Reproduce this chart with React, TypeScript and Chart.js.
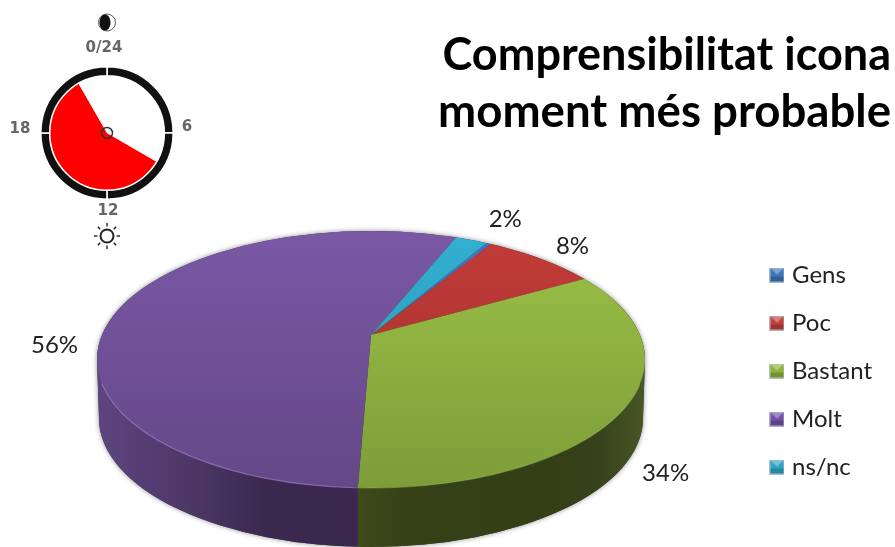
import React, { useEffect, useRef } from "react";
import { Chart, registerables } from "chart.js";

Chart.register(...registerables);

// ---- data ----
const categories = ["Gens", "Poc", "Bastant", "Molt", "ns/nc"];
const shares = [0.3, 8, 34, 56, 2];
const shareLabels = ["", "8%", "34%", "56%", "2%"];
const titleLines = ["Comprensibilitat icona", "moment més probable"];
const clockHours = [14, 10];
const clockQuarters = [6, 6, 6, 6];

// ---- styles ----
const topColors = ["#3F78C4", "#C23B38", "#9BC146", "#7A58A5", "#33B0D2"];
const legendColors = ["#3A75B8", "#C0403C", "#8DB33C", "#7450A8", "#2FA3C4"];
const wallStops: Record<number, string[]> = {
  2: ["#3E4A1A", "#364117", "#344015", "#343F15", "#343F15", "#36421A", "#4A5726"],
  3: ["#5E4580", "#4E3869", "#3A284F", "#3A284F"],
};
const labelOffsets = [[0, 0], [22, -10], [49, 70], [-45, 24], [32, -19]];
const titleSizes = [45, 45.6];

const PIE = {
  cx: 371, cy: 335,
  rx: 274, upper: 104, lower: 153,
  shear: -26, grow: 1.4,
  rimCy: 359.5, rimRy: 128.5,
  baseCy: 418.5, baseRx: 272, baseRy: 128.5,
};

const rimPath = (ctx: CanvasRenderingContext2D) => {
  ctx.beginPath();
  ctx.ellipse(PIE.cx, PIE.rimCy, PIE.rx, PIE.rimRy, 0, 0, Math.PI * 2);
};

const wallPath = (ctx: CanvasRenderingContext2D) => {
  ctx.beginPath();
  ctx.ellipse(PIE.cx, PIE.rimCy, PIE.rx, PIE.rimRy, 0, Math.PI, 0);
  ctx.lineTo(PIE.cx + PIE.baseRx, PIE.baseCy);
  ctx.ellipse(PIE.cx, PIE.baseCy, PIE.baseRx, PIE.baseRy, 0, 0, Math.PI);
  ctx.closePath();
};

const makeMarker = (color: string) => {
  const c = document.createElement("canvas");
  c.width = 15;
  c.height = 15;
  const g = c.getContext("2d")!;
  g.fillStyle = color;
  g.fillRect(0, 0, 15, 15);
  g.fillStyle = "rgba(255,255,255,0.35)";
  g.beginPath();
  g.moveTo(1, 1); g.lineTo(14, 1); g.lineTo(7.5, 7); g.closePath();
  g.fill();
  g.fillStyle = "rgba(0,0,0,0.18)";
  g.beginPath();
  g.moveTo(1, 14); g.lineTo(14, 14); g.lineTo(14, 9); g.lineTo(1, 9); g.closePath();
  g.fill();
  g.strokeStyle = "rgba(190,200,215,0.8)";
  g.strokeRect(0.5, 0.5, 14, 14);
  return c;
};

const piePlugin = {
  id: "tiltedPie",
  beforeDatasetsDraw(chart: any) {
    const ctx: CanvasRenderingContext2D = chart.ctx;
    const arcs: any[] = chart.getDatasetMeta(0).data;
    const R = arcs[0].outerRadius;
    const E = PIE.grow;

    // side wall
    ctx.save();
    ctx.shadowColor = "rgba(0,0,0,0.45)";
    ctx.shadowBlur = 5;
    ctx.fillStyle = "#444";
    wallPath(ctx);
    ctx.fill();
    ctx.restore();
    const frontX = (a: number) => PIE.cx + PIE.rx * Math.cos(a) + PIE.shear * Math.sin(a);
    arcs.forEach((arc, i) => {
      const stops = wallStops[i];
      if (!stops) return;
      const s = arc.startAngle;
      const e = arc.endAngle;
      if (e <= 0 || s >= Math.PI) return;
      const right = s <= 0 ? PIE.cx + PIE.rx + 2 : frontX(s);
      const left = e >= Math.PI ? PIE.cx - PIE.rx - 2 : frontX(e);
      const g = ctx.createLinearGradient(left, 0, right, 0);
      stops.forEach((c, k) => g.addColorStop(k / (stops.length - 1), c));
      ctx.save();
      ctx.beginPath();
      ctx.rect(left, 300, right - left, 260);
      ctx.clip();
      wallPath(ctx);
      ctx.fillStyle = g;
      ctx.fill();
      ctx.restore();
    });

    // top face, in two halves either side of the apex
    const half = (clipY: number, clipH: number, sy: number, shear: number) => {
      ctx.save();
      rimPath(ctx);
      ctx.clip();
      ctx.beginPath();
      ctx.rect(0, clipY, 895, clipH);
      ctx.clip();
      ctx.translate(PIE.cx, PIE.cy);
      ctx.transform((E * PIE.rx) / R, 0, (E * shear) / R, (E * sy) / R, 0, 0);
      ctx.translate(-arcs[0].x, -arcs[0].y);
      arcs.forEach((a) => a.draw(ctx));
      ctx.restore();
    };
    half(0, PIE.cy + 0.5, PIE.upper, 0);
    half(PIE.cy - 0.5, 547, PIE.lower, PIE.shear);

    // shading and rim
    ctx.save();
    rimPath(ctx);
    ctx.clip();
    const shade = ctx.createLinearGradient(0, PIE.rimCy - PIE.rimRy, 0, PIE.rimCy + PIE.rimRy);
    shade.addColorStop(0, "rgba(0,0,0,0)");
    shade.addColorStop(1, "rgba(0,0,0,0.19)");
    ctx.fillStyle = shade;
    ctx.fillRect(0, 0, 895, 547);
    ctx.restore();

    ctx.save();
    ctx.lineWidth = 1.2;
    ctx.strokeStyle = "rgba(150,120,195,0.75)";
    ctx.beginPath();
    ctx.ellipse(PIE.cx, PIE.rimCy, PIE.rx, PIE.rimRy, 0, 1.63, 2.95);
    ctx.stroke();
    ctx.strokeStyle = "rgba(160,190,90,0.45)";
    ctx.beginPath();
    ctx.ellipse(PIE.cx, PIE.rimCy, PIE.rx, PIE.rimRy, 0, 0.2, 1.63);
    ctx.stroke();
    ctx.restore();
    return false;
  },
  afterDraw(chart: any) {
    const ctx: CanvasRenderingContext2D = chart.ctx;
    const arcs: any[] = chart.getDatasetMeta(0).data;
    ctx.save();
    ctx.textAlign = "center";
    ctx.textBaseline = "middle";

    // title
    ctx.fillStyle = "#000";
    ctx.textAlign = "right";
    titleLines.forEach((t, i) => {
      ctx.font = `bold ${titleSizes[i]}px Lato`;
      ctx.fillText(t, 891, 55 + i * 57);
    });
    ctx.textAlign = "center";

    // slice labels, hung from the rim at each slice's middle angle
    ctx.fillStyle = "#222";
    ctx.font = "24px Lato";
    arcs.forEach((arc, i) => {
      if (!shareLabels[i]) return;
      const m = (arc.startAngle + arc.endAngle) / 2;
      const ry = Math.sin(m) > 0 ? PIE.lower : PIE.upper;
      const x = PIE.cx + PIE.rx * Math.cos(m) + labelOffsets[i][0];
      const y = PIE.cy + ry * Math.sin(m) + labelOffsets[i][1];
      ctx.fillText(shareLabels[i], x, y);
    });

    // clock dial labels
    ctx.fillStyle = "#666";
    ctx.font = "bold 15px 'DejaVu Sans'";
    ctx.fillText("0/24", 104, 48);
    ctx.fillText("6", 187, 127);
    ctx.fillText("18", 20, 129);
    ctx.fillText("12", 108, 211);

    // moon
    ctx.strokeStyle = "#555";
    ctx.lineWidth = 1;
    ctx.beginPath();
    ctx.arc(107, 22.5, 8.5, 0, Math.PI * 2);
    ctx.stroke();
    ctx.fillStyle = "#111";
    ctx.beginPath();
    ctx.ellipse(105, 22.5, 5.5, 8, 0, 0, Math.PI * 2);
    ctx.fill();

    // sun
    ctx.strokeStyle = "#222";
    ctx.lineWidth = 2;
    ctx.beginPath();
    ctx.arc(107, 236, 6.5, 0, Math.PI * 2);
    ctx.stroke();
    ctx.lineWidth = 1.4;
    for (let k = 0; k < 8; k++) {
      const a = (k * Math.PI) / 4;
      ctx.beginPath();
      ctx.moveTo(107 + 9.5 * Math.cos(a), 236 + 9.5 * Math.sin(a));
      ctx.lineTo(107 + 13 * Math.cos(a), 236 + 13 * Math.sin(a));
      ctx.stroke();
    }
    ctx.restore();
  },
};

const clockHub = {
  id: "clockHub",
  afterDraw(chart: any) {
    const ctx: CanvasRenderingContext2D = chart.ctx;
    const a = chart.getDatasetMeta(0).data[0];
    ctx.save();
    ctx.strokeStyle = "#333";
    ctx.lineWidth = 1.5;
    ctx.beginPath();
    ctx.arc(a.x, a.y, 5.5, 0, Math.PI * 2);
    ctx.stroke();
    ctx.restore();
  },
};

export default function App() {
  const mainRef = useRef<HTMLCanvasElement>(null);
  const clockRef = useRef<HTMLCanvasElement>(null);

  useEffect(() => {
    const markers = legendColors.map(makeMarker);
    const main = new Chart(mainRef.current!, {
      type: "pie",
      data: {
        labels: categories,
        datasets: [{ data: shares, backgroundColor: topColors, borderWidth: 0 }],
      },
      options: {
        responsive: false,
        animation: false,
        rotation: 25.5,
        layout: { padding: { top: 195, right: 13 } },
        plugins: {
          tooltip: { enabled: false },
          legend: {
            position: "right",
            labels: {
              usePointStyle: true,
              boxWidth: 6,
              padding: 24,
              color: "#222",
              font: { family: "Lato", size: 24 },
              generateLabels: () =>
                categories.map((text, i) => ({
                  text,
                  pointStyle: markers[i],
                  fontColor: "#222",
                  hidden: false,
                  index: i,
                  lineWidth: 0,
                })),
            },
          },
        },
      },
      plugins: [piePlugin],
    } as any);

    const clock = new Chart(clockRef.current!, {
      type: "doughnut",
      data: {
        labels: ["a", "b", "c", "d"],
        datasets: [
          { data: clockQuarters, backgroundColor: "#111", borderColor: "#fff", borderWidth: 1.6, weight: 9 },
          { data: clockHours, backgroundColor: ["#FF0000", "#FFFFFF"], borderWidth: 0, rotation: 120, weight: 58 },
        ],
      },
      options: {
        responsive: false,
        animation: false,
        cutout: 0,
        layout: { padding: 0 },
        plugins: { legend: { display: false }, tooltip: { enabled: false } },
      },
      plugins: [clockHub],
    } as any);

    return () => {
      main.destroy();
      clock.destroy();
    };
  }, []);

  const soft = { position: "absolute", filter: "blur(0.45px)" } as const;
  return (
    <div style={{ position: "absolute", left: 0, top: 0, width: 895, height: 547, overflow: "hidden", background: "#fff" }}>
      <canvas ref={mainRef} width={895} height={547} style={{ ...soft, left: 0, top: 0 }} />
      <canvas ref={clockRef} width={134} height={134} style={{ ...soft, left: 40, top: 66 }} />
    </div>
  );
}
